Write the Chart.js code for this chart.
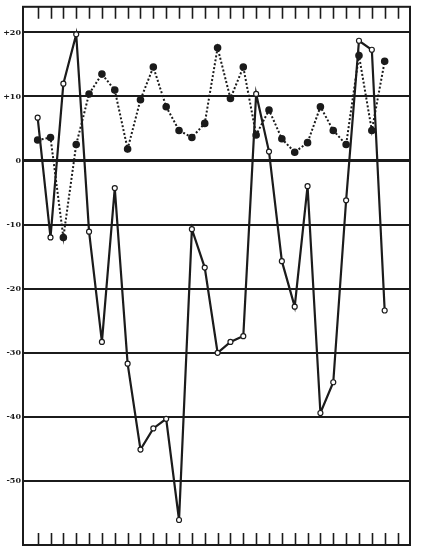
<!DOCTYPE html>
<html>
<head>
  <meta charset="UTF-8">
  <script src="https://cdn.jsdelivr.net/npm/chart.js"></script>
  <style>
    html, body { margin: 0; padding: 0; background: #fff; }
    #wrap { width: 430px; height: 553px; }
  </style>
</head>
<body>
  <div id="wrap"><canvas id="chart"></canvas></div>
  <script>
    // readings per interval (open circles, solid line)
    const openSeries = [6.7, -12.0, 12.0, 19.7, -11.1, -28.3, -4.3, -31.7, -45.1, -41.8,
      -40.3, -56.1, -10.7, -16.7, -30.0, -28.3, -27.4, 10.4, 1.4, -15.7,
      -22.8, -4.0, -39.4, -34.6, -6.2, 18.7, 17.3, -23.4];
    // readings per interval (filled dots, dotted line)
    const dotSeries = [3.2, 3.6, -12.0, 2.5, 10.4, 13.5, 11.0, 1.8, 9.5, 14.6,
      8.4, 4.7, 3.6, 5.8, 17.6, 9.7, 14.6, 4.0, 7.9, 3.4,
      1.3, 2.8, 8.4, 4.7, 2.5, 16.4, 4.7, 15.5];
    const yTickValues = [-50, -40, -30, -20, -10, 0, 10, 20];
    const yTickLabels = ['-50', '-40', '-30', '-20', '-10', '0', '+10', '+20'];
    const tickCount = 29;

    const ink = '#1b1b1b';

    const toPoints = arr => arr.map((v, i) => ({ x: i, y: v }));

    // frame and the short inward tick marks along top and bottom
    const framePlugin = {
      id: 'frame',
      afterDraw(chart) {
        const { ctx, chartArea: a, scales } = chart;
        ctx.save();
        ctx.strokeStyle = ink;
        ctx.lineWidth = 2;
        ctx.strokeRect(a.left, a.top, a.right - a.left, a.bottom - a.top);
        ctx.lineWidth = 1.6;
        for (let i = 0; i < tickCount; i++) {
          const x = Math.round(scales.x.getPixelForValue(i)) + 0.5;
          ctx.beginPath();
          ctx.moveTo(x, a.top);
          ctx.lineTo(x, a.top + 12);
          ctx.moveTo(x, a.bottom);
          ctx.lineTo(x, a.bottom - 12);
          ctx.stroke();
        }
        ctx.restore();
      }
    };

    new Chart(document.getElementById('chart'), {
      type: 'line',
      data: {
        datasets: [
          {
            data: toPoints(dotSeries),
            borderColor: ink,
            borderWidth: 2,
            borderDash: [2, 2],
            pointRadius: 2.8,
            pointBackgroundColor: ink,
            pointBorderColor: ink,
            tension: 0
          },
          {
            data: toPoints(openSeries),
            borderColor: ink,
            borderWidth: 2.2,
            pointRadius: 2.5,
            pointBorderWidth: 1.2,
            pointBackgroundColor: '#fff',
            pointBorderColor: ink,
            tension: 0
          }
        ]
      },
      options: {
        responsive: true,
        maintainAspectRatio: false,
        animation: false,
        layout: { padding: { top: 6, right: 20, bottom: 8, left: 0 } },
        plugins: { legend: { display: false }, tooltip: { enabled: false } },
        scales: {
          x: {
            type: 'linear',
            min: -1.14,
            max: 28.97,
            display: false
          },
          y: {
            min: -60,
            max: 24,
            afterBuildTicks: s => { s.ticks = yTickValues.map(v => ({ value: v })); },
            afterFit: s => { s.width = 23; },
            border: { display: false },
            grid: {
              color: ink,
              lineWidth: c => (c.tick && c.tick.value === 0 ? 3 : 2),
              drawTicks: false
            },
            ticks: {
              color: ink,
              padding: 2,
              font: { family: "'DejaVu Serif', 'Liberation Serif', serif", size: 8, weight: 'bold' },
              callback: v => yTickLabels[yTickValues.indexOf(v)]
            }
          }
        }
      },
      plugins: [framePlugin]
    });
  </script>
</body>
</html>
